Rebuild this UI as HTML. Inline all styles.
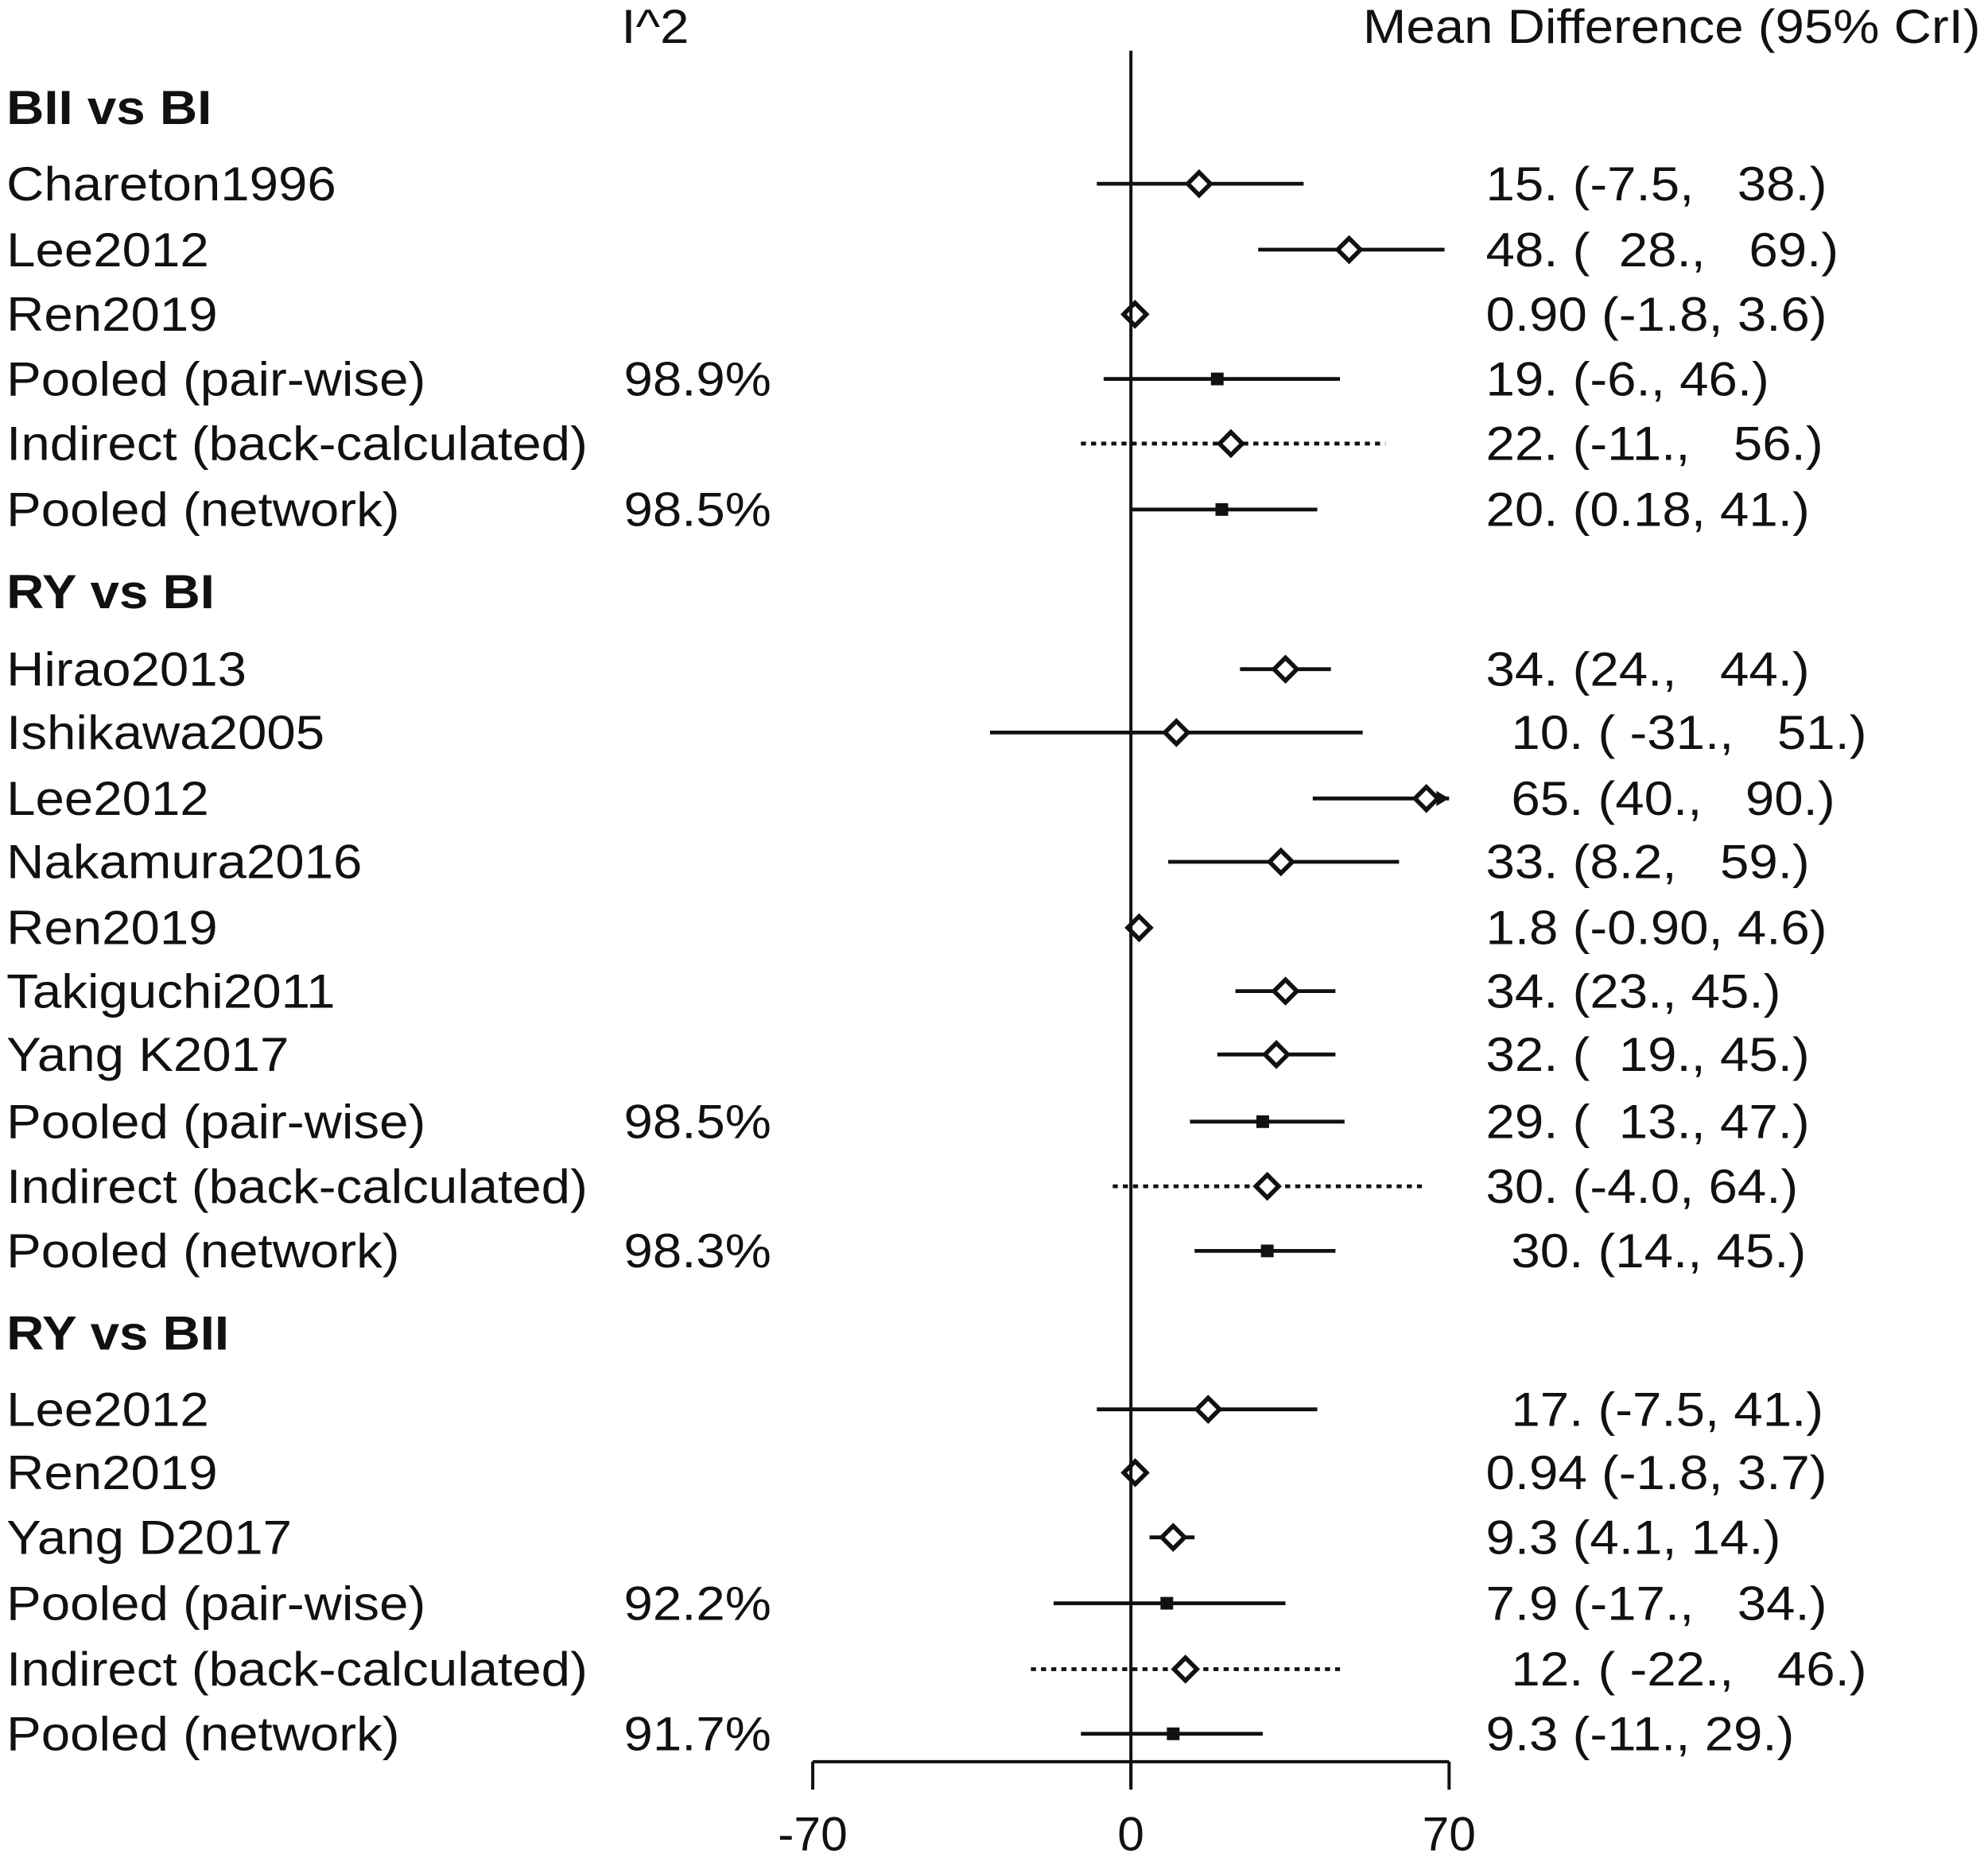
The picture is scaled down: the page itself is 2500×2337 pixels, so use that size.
<!DOCTYPE html>
<html><head><meta charset="utf-8"><style>
html,body{margin:0;padding:0;background:#fff;}
svg{display:block;}
text{font-family:"Liberation Sans",Arial,sans-serif;fill:#111;white-space:pre;}
</style></head><body>
<svg id="chart" width="2500" height="2337" viewBox="0 0 1568 1466" xmlns="http://www.w3.org/2000/svg">
<text x="490" y="34" font-size="38" transform="translate(490 0) scale(1.08 1) translate(-490 0)">I^2</text>
<text x="1075" y="34" font-size="38" transform="translate(1075 0) scale(1.08 1) translate(-1075 0)">Mean Difference (95% CrI)</text>
<g id="rows"></g>
<g id="axis"></g>
</svg>
<script>
const labels=["BII vs BI","Chareton1996","Lee2012","Ren2019","Pooled (pair-wise)","Indirect (back-calculated)","Pooled (network)",
"RY vs BI","Hirao2013","Ishikawa2005","Lee2012","Nakamura2016","Ren2019","Takiguchi2011","Yang K2017","Pooled (pair-wise)","Indirect (back-calculated)","Pooled (network)",
"RY vs BII","Lee2012","Ren2019","Yang D2017","Pooled (pair-wise)","Indirect (back-calculated)","Pooled (network)"];
const kinds=["h","s","s","s","p","i","p","h","s","s","s","s","s","s","s","p","i","p","h","s","s","s","p","i","p"];
const est=[null,15,48,0.9,19,22,20,null,34,10,65,33,1.8,34,32,29,30,30,null,17,0.94,9.3,7.9,12,9.3];
const lo=[null,-7.5,28,-1.8,-6,-11,0.18,null,24,-31,40,8.2,-0.9,23,19,13,-4,14,null,-7.5,-1.8,4.1,-17,-22,-11];
const hi=[null,38,69,3.6,46,56,41,null,44,51,90,59,4.6,45,45,47,64,45,null,41,3.7,14,34,46,29];
const i2=["","","","","98.9%","","98.5%","","","","","","","","","98.5%","","98.3%","","","","","92.2%","","91.7%"];
const ciText=["","15. (-7.5,   38.)","48. (  28.,   69.)","0.90 (-1.8, 3.6)","19. (-6., 46.)","22. (-11.,   56.)","20. (0.18, 41.)","",
"34. (24.,   44.)","10. ( -31.,   51.)","65. (40.,   90.)","33. (8.2,   59.)","1.8 (-0.90, 4.6)","34. (23., 45.)","32. (  19., 45.)","29. (  13., 47.)","30. (-4.0, 64.)","30. (14., 45.)","",
"17. (-7.5, 41.)","0.94 (-1.8, 3.7)","9.3 (4.1, 14.)","7.9 (-17.,   34.)","12. ( -22.,   46.)","9.3 (-11., 29.)"];
const ciIndent=[0,0,0,0,0,0,0,0,0,1,1,0,0,0,0,0,0,1,0,1,0,0,0,1,0];
const xTicks=[-70,0,70];
const xMin=-70,xMax=70;
const NS="http://www.w3.org/2000/svg";
const X=v=>892+(v-0)*(1143-641)/(xMax-xMin);
const rowY=[85,145,197,248,299,350,402,467,528,578,630,680,732,782,832,885,936,987,1052,1112,1162,1213,1265,1317,1368];
function mk(t,a,p){const e=document.createElementNS(NS,t);for(const k in a)e.setAttribute(k,a[k]);p.appendChild(e);return e;}
function sx(x){return `translate(${x} 0) scale(1.08 1) translate(${-x} 0)`;}
const rows=document.getElementById('rows');
labels.forEach((lab,i)=>{
  const y=rowY[i];const k=kinds[i];
  const t=mk('text',{x:5,y:y+13,'font-size':38,'font-weight':k==='h'?'bold':'normal',transform:sx(5)},rows);
  t.textContent=lab;
  
  
  if(k==='h')return;
  if(i2[i]){const t2=mk('text',{x:492,y:y+13,'font-size':38,transform:sx(492)},rows);t2.textContent=i2[i];
    
    }
  const cxText=ciIndent[i]?1192:1172;
  const t3=mk('text',{x:cxText,y:y+13,'font-size':38,transform:sx(cxText)},rows);t3.textContent=ciText[i];
  
  
  const x1=X(Math.max(lo[i],xMin)),x2=X(Math.min(hi[i],xMax));
  const ln=mk('line',{x1:x1,x2:x2,y1:y,y2:y,stroke:'#111','stroke-width':3,'stroke-dasharray':k==='i'?'4 4':'none'},rows);
  
  
  if(hi[i]>xMax){const ar=mk('polygon',{points:`${x2-10},${y-6} ${x2},${y} ${x2-10},${y+6}`,fill:'#111'},rows);
    
    }
  const cx=X(est[i]);
  if(k==='p'){const m=mk('rect',{x:cx-5,y:y-5,width:10,height:10,fill:'#111'},rows);
    
    }
  else{const m=mk('polygon',{points:`${cx},${y-9} ${cx+9},${y} ${cx},${y+9} ${cx-9},${y}`,fill:'#fff',stroke:'#111','stroke-width':3.5},rows);
    
    }
});
const ax=document.getElementById('axis');
const ref=mk('line',{x1:X(0),x2:X(0),y1:40,y2:1410,stroke:'#111','stroke-width':2.5},ax);


const base=mk('line',{x1:X(xMin),x2:X(xMax),y1:1390,y2:1390,stroke:'#111','stroke-width':2.5},ax);


xTicks.forEach(v=>{
  const tk=mk('line',{x1:X(v),x2:X(v),y1:1390,y2:1412,stroke:'#111','stroke-width':2.5},ax);
  
  
  const tl=mk('text',{x:X(v),y:1460,'font-size':38,'text-anchor':'middle'},ax);tl.textContent=String(v);
  
  
});
</script>
</body></html>
